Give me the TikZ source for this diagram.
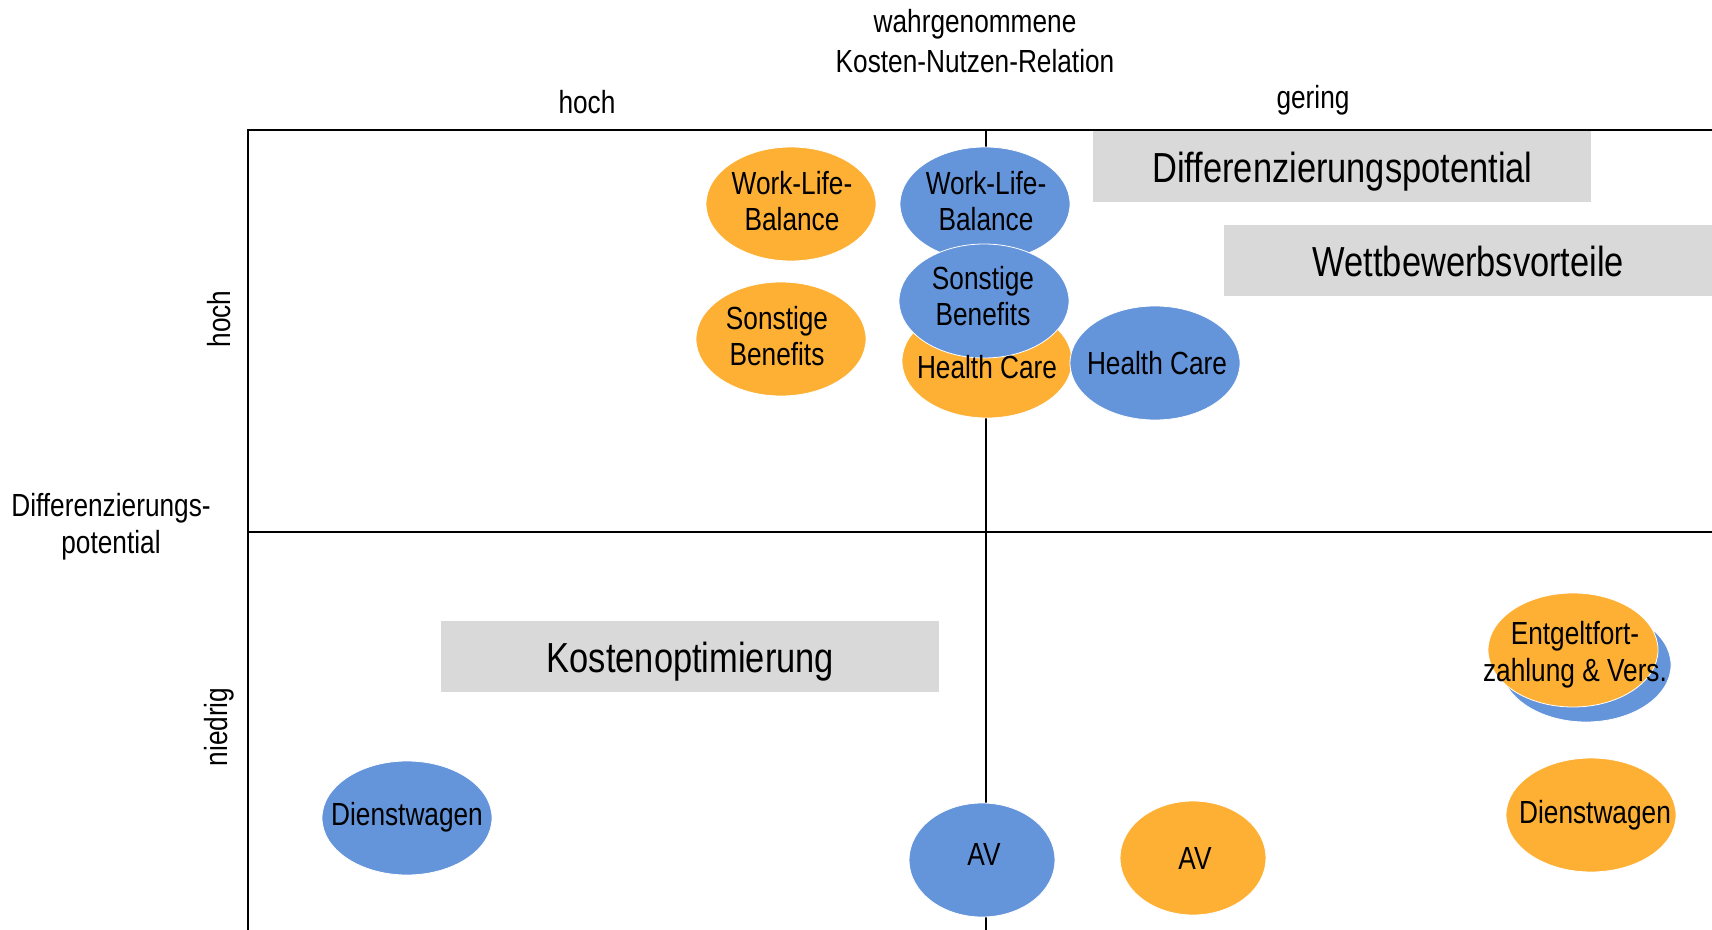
\documentclass[tikz,border=0pt]{standalone}
\usepackage{fontspec}
\setmainfont{Liberation Sans}[FakeStretch=0.82]
\usetikzlibrary{shapes.geometric}
\definecolor{cor}{HTML}{FDB034}
\definecolor{cbl}{HTML}{6494DA}
\definecolor{cgr}{HTML}{D9D9D9}
\begin{document}
\begin{tikzpicture}[x=0.5pt,y=-0.5pt,
 blob/.style={ellipse, minimum width=85pt, minimum height=57pt, inner sep=0pt, draw=white, line width=0.4pt},
 avblob/.style={blob, minimum width=73pt},
 orb/.style={fill=cor}, blb/.style={fill=cbl},
 txt/.style={font=\fontsize{16}{18.4}\selectfont, align=center, inner sep=0pt},
 big/.style={font=\fontsize{21}{24}\selectfont, text depth=0pt},
 gbox/.style={fill=cgr, inner sep=0pt, anchor=north west, big},
 ax/.style={line width=1pt}]
\useasboundingbox (0,0) rectangle (1712,930);
% axes
\coordinate (tl) at (248,130); \coordinate (tr) at (1712,130);
\coordinate (bl) at (248,930);
\coordinate (mt) at (986,130); \coordinate (mb) at (986,930);
\coordinate (ml) at (248,532); \coordinate (mr) at (1712,532);
\draw[ax] (bl) -- (tl) -- (tr);
\draw[ax] (mt) -- (mb);
\draw[ax] (ml) -- (mr);
% labels
\node[txt] (t1) at (975,24) {wahrgenommene};
\node[txt] (t2) at (975,61) {Kosten-Nutzen-Relation};
\node[txt] (xh) at (587,102) {hoch};
\node[txt] (xg) at (1313,100) {gering};
\node[txt, rotate=90] (yh) at (219,319) {hoch};
\node[txt, rotate=90] (yn) at (219,727) {niedrig};
\node[txt] (yl) at (111,527) {Differenzierungs-\\potential};
% gray boxes
\node[gbox, minimum width=249pt, minimum height=35.5pt] (dp) at (1093,131) {Differenzierungspotential};
\node[gbox, minimum width=244pt, minimum height=35.5pt] (wv) at (1224,225) {Wettbewerbsvorteile};
\node[gbox, minimum width=249pt, minimum height=35.5pt] (ko) at (441,621) {Kostenoptimierung};
% ellipses
\node[blob, orb] (owlb) at (791,204) {};
\node[blob, blb] (bwlb) at (985,204) {};
\node[blob, orb] (oson) at (781,339) {};
\node[blob, orb] (ohc) at (987,361) {};
\node[blob, blb] (bson) at (984,301) {};
\node[blob, blb] (bhc) at (1155,363) {};
\node[blob, blb] (bent) at (1586,665) {};
\node[blob, orb] (oent) at (1573,650) {};
\node[blob, orb] (odw) at (1591,815) {};
\node[blob, blb] (bdw) at (407,818) {};
\node[avblob, blb] (bav) at (982,860) {};
\node[avblob, orb] (oav) at (1193,858) {};
% texts
\node[txt] at (792,201) {Work-Life-\\Balance};
\node[txt] at (986,201) {Work-Life-\\Balance};
\node[txt] at (777,336) {Sonstige\\Benefits};
\node[txt] at (987,367) {Health Care};
\node[txt] at (983,296) {Sonstige\\Benefits};
\node[txt] at (1157,363) {Health Care};
\node[txt] at (1575,655) {Entgeltfort-\\zahlung \& Vers.};
\node[txt] at (1595,815) {Dienstwagen};
\node[txt] at (407,817) {Dienstwagen};
\node[txt] at (984,854) {AV};
\node[txt] at (1195,858) {AV};
\end{tikzpicture}
\end{document}
